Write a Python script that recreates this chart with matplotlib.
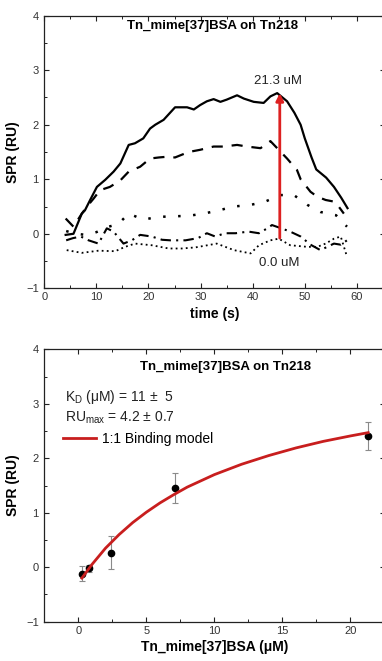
import matplotlib
matplotlib.use("Agg")
import matplotlib.pyplot as plt
from matplotlib.lines import Line2D
from matplotlib.ticker import MultipleLocator

plt.rcParams['font.family'] = ['Liberation Sans', 'DejaVu Sans']
plt.rcParams['mathtext.fontset'] = 'custom'
plt.rcParams['mathtext.rm'] = 'Liberation Sans'

# ---------------- data: top panel (SPR sensorgrams) ----------------
t_213 = [4.1, 5.6, 7.2, 7.8, 8.8, 10.1, 11.7, 13.3, 14.6, 16.2, 17.4, 19.0, 20.3, 21.3, 22.9,
         25.1, 27.4, 28.7, 29.9, 31.2, 32.5, 33.8, 35.0, 37.0, 38.3, 40.2, 42.1, 43.4, 44.7,
         46.6, 48.0, 49.2, 50.0, 51.3, 52.2, 54.1, 55.6, 57.0, 58.2]
v_213 = [-0.02, 0.00, 0.37, 0.43, 0.62, 0.86, 0.99, 1.14, 1.29, 1.63, 1.66, 1.75, 1.93, 2.00, 2.09,
         2.32, 2.32, 2.28, 2.36, 2.43, 2.47, 2.42, 2.46, 2.54, 2.48, 2.42, 2.40, 2.52, 2.58,
         2.43, 2.22, 2.00, 1.75, 1.40, 1.18, 1.03, 0.86, 0.66, 0.47]

t_71 = [4.1, 5.6, 7.2, 8.2, 9.5, 10.7, 12.6, 14.6, 16.2, 18.4, 20.3, 22.0, 23.2, 25.1, 27.7,
        29.9, 32.5, 34.4, 37.0, 38.9, 41.5, 43.4, 45.0, 46.6, 48.5, 49.2, 51.1, 52.4, 54.0,
        55.6, 56.5, 57.5]
v_71 = [0.28, 0.13, 0.37, 0.50, 0.65, 0.80, 0.86, 0.98, 1.14, 1.23, 1.38, 1.40, 1.41, 1.40, 1.50,
        1.54, 1.60, 1.60, 1.63, 1.60, 1.57, 1.70, 1.54, 1.38, 1.17, 1.00, 0.77, 0.68, 0.62,
        0.59, 0.50, 0.37]

t_237 = [4.2, 6.0, 8.0, 10.0, 12.0, 14.2, 16.2, 19.0, 21.9, 24.8, 27.7, 30.6, 33.5, 36.4, 39.6,
         42.4, 45.3, 47.9, 50.5, 53.0, 56.0, 58.1]
v_237 = [0.05, 0.00, -0.02, 0.03, 0.12, 0.18, 0.37, 0.26, 0.31, 0.32, 0.33, 0.37, 0.43, 0.50, 0.53,
         0.59, 0.71, 0.71, 0.53, 0.40, 0.34, 0.13]

t_079 = [4.2, 5.5, 7.0, 8.5, 10.4, 12.0, 13.3, 15.2, 16.8, 18.4, 20.6, 22.6, 24.2, 27.1, 29.5,
         31.2, 32.8, 34.7, 36.7, 39.2, 41.2, 42.8, 43.7, 45.5, 47.2, 49.2, 51.1, 53.0, 55.6,
         56.9, 58.1]
v_079 = [-0.12, -0.08, -0.05, -0.12, -0.18, 0.10, 0.04, -0.18, -0.12, -0.02, -0.05, -0.11, -0.12, -0.12, -0.08,
         0.01, -0.05, 0.01, 0.01, 0.04, 0.01, 0.10, 0.16, 0.10, 0.04, -0.05, -0.20, -0.30, -0.18,
         -0.20, -0.12]

t_000 = [4.3, 7.2, 10.4, 13.6, 15.5, 17.4, 20.6, 23.9, 26.4, 29.0, 33.1, 36.4, 39.6, 41.2, 43.4,
         45.0, 47.2, 50.5, 52.4, 54.0, 55.6, 56.9, 58.1]
v_000 = [-0.30, -0.35, -0.31, -0.32, -0.24, -0.18, -0.21, -0.27, -0.27, -0.25, -0.18, -0.30, -0.36, -0.21, -0.12,
         -0.09, -0.21, -0.24, -0.24, -0.18, -0.09, -0.05, -0.42]

arrow_t = 45.2
arrow_from = -0.08
arrow_to = 2.58
label_high = "21.3 uM"
label_low = "0.0 uM"
title_text = "Tn_mime[37]BSA on Tn218"

# ---------------- data: bottom panel (binding isotherm) ----------------
conc = [0.26, 0.79, 2.37, 7.1, 21.3]
resp = [-0.12, -0.02, 0.27, 1.45, 2.41]
resp_err = [0.14, 0.06, 0.30, 0.28, 0.25]

fit_c = [0.26, 0.5, 1, 1.5, 2, 3, 4, 5, 6, 7, 8, 10, 12, 14, 16, 18, 20, 21.3]
fit_v = [-0.20, -0.12, 0.05, 0.20, 0.35, 0.60, 0.82, 1.01, 1.18, 1.33, 1.47, 1.70, 1.89, 2.05,
         2.19, 2.31, 2.41, 2.47]

# ---------------- figure ----------------
W, H = 382, 661
fig = plt.figure(figsize=(W / 100, H / 100), dpi=100)

def style_axes(ax, xmaj, xmin_, ymaj, ymin_):
    for s in ax.spines.values():
        s.set_linewidth(0.9)
        s.set_color('#222222')
    ax.xaxis.set_major_locator(MultipleLocator(xmaj))
    ax.xaxis.set_minor_locator(MultipleLocator(xmin_))
    ax.yaxis.set_major_locator(MultipleLocator(ymaj))
    ax.yaxis.set_minor_locator(MultipleLocator(ymin_))
    ax.tick_params(which='both', direction='in', top=True, right=True, colors='#222222',
                   labelcolor='#333333', labelsize=8)
    ax.tick_params(which='major', length=3.5, width=0.8)
    ax.tick_params(which='minor', length=2, width=0.7)
    ax.tick_params(axis='x', pad=3)
    ax.tick_params(axis='y', pad=4)

left = 44.3 / W
width = (384.5 - 44.3) / W

# top panel
ax1 = fig.add_axes([left, 1 - 288.3 / H, width, 272.6 / H])
ax1.plot(t_213, v_213, color='black', lw=1.6, ls='-')
ax1.plot(t_71, v_71, color='black', lw=1.6, ls=(0, (5, 4)))
ax1.plot(t_237, v_237, color='black', lw=1.8, ls=(0, (1, 5)))
ax1.plot(t_079, v_079, color='black', lw=1.5, ls=(0, (5, 2.5, 1, 2.5)))
ax1.plot(t_000, v_000, color='black', lw=1.3, ls=(0, (1, 1.8)))
ax1.annotate('', xy=(arrow_t, arrow_to), xytext=(arrow_t, arrow_from),
             arrowprops=dict(arrowstyle='-|>', color='#dd2020', lw=2, mutation_scale=11,
                             shrinkA=0, shrinkB=0))
ax1.text(44.8, 2.81, label_high, ha='center', va='center', fontsize=9.5, color='#222222')
ax1.text(45.1, -0.54, label_low, ha='center', va='center', fontsize=9.5, color='#222222')
ax1.text(32.2, 3.82, title_text, ha='center', va='center', fontsize=9.5, fontweight='bold')
ax1.set_xlim(0, 65.3)
ax1.set_ylim(-1, 4)
style_axes(ax1, 10, 5, 1, 0.5)
ax1.set_xlabel('time (s)', fontsize=10, fontweight='bold', labelpad=3)
ax1.set_ylabel('SPR (RU)', fontsize=10, fontweight='bold', labelpad=4)

# bottom panel
ax2 = fig.add_axes([left, 1 - 621.7 / H, width, 272.4 / H])
ax2.errorbar(conc, resp, yerr=resp_err, fmt='none', ecolor='#8a8a8a', elinewidth=0.8,
             capsize=2, capthick=0.8, zorder=2)
ax2.plot(conc, resp, 'o', color='black', ms=4.5, zorder=3)
ax2.plot(fit_c, fit_v, color='#c81e1e', lw=2, zorder=4)
ax2.text(10.8, 3.68, title_text, ha='center', va='center', fontsize=9.5, fontweight='bold')
ax2.text(-1.0, 3.12, r'K$_\mathrm{D}$ (μM) = 11 ±  5', ha='left', va='center', fontsize=10,
         color='#222222')
ax2.text(-1.0, 2.74, r'RU$_\mathrm{max}$ = 4.2 ± 0.7', ha='left', va='center', fontsize=10,
         color='#222222')
h = Line2D([], [], color='#c81e1e', lw=2)
ax2.legend([h], ['1:1 Binding model'], loc='center left', bbox_to_anchor=(0.055, 0.672),
           frameon=False, fontsize=10, handlelength=2.4, handletextpad=0.4, borderpad=0,
           borderaxespad=0)
ax2.set_xlim(-2.5, 22.5)
ax2.set_ylim(-1, 4)
style_axes(ax2, 5, 2.5, 1, 0.5)
ax2.set_xlabel('Tn_mime[37]BSA (μM)', fontsize=10, fontweight='bold', labelpad=3)
ax2.set_ylabel('SPR (RU)', fontsize=10, fontweight='bold', labelpad=4)

fig.savefig('out.png', dpi=100)
